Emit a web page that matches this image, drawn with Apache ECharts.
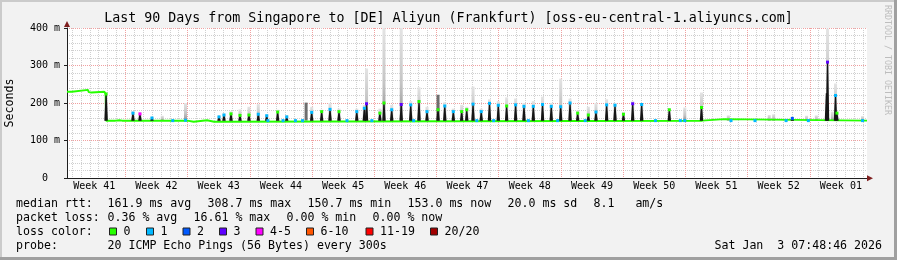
<!DOCTYPE html>
<html><head><meta charset="utf-8">
<script src="https://cdn.jsdelivr.net/npm/echarts@6/dist/echarts.min.js"></script>
<style>html,body{margin:0;padding:0;background:#f2f2f2}#c{width:897px;height:260px}</style>
</head><body><div id="c"></div>
<script>
// ---------------- data (x = days since the start of the 90-day window, y = ms) ----------------
const weekLabels = ['Week 41','Week 42','Week 43','Week 44','Week 45','Week 46','Week 47','Week 48','Week 49','Week 50','Week 51','Week 52','Week 01'];
const weekLabelDays = [3.06, 10.06, 17.06, 24.06, 31.06, 38.06, 45.06, 52.06, 59.06, 66.06, 73.06, 80.06, 87.06];
const weekStartDays = [6.56, 13.56, 20.56, 27.56, 34.56, 41.56, 48.56, 55.56, 62.56, 69.56, 76.56, 83.56];
const yTickValues = [0, 100, 200, 300, 400];
const yTickLabels = ['0  ', '100 m', '200 m', '300 m', '400 m'];

// median rtt baseline (ms)
const baseDay = [0, 0.55, 0.62, 2.35, 2.45, 2.6, 2.75, 2.9, 4.2, 4.36, 4.40, 5.45, 5.6, 5.9, 6.2, 6.35, 6.7, 13.55, 13.75, 14.25, 14.4, 15.75, 15.95, 16.55, 16.7, 71.45, 71.55, 73.9, 74.0, 90];
const baseMs  = [230, 230, 235, 235, 229, 233, 228, 230, 230, 224, 153, 153, 157, 154, 153, 158, 153, 153, 150, 150, 154, 154, 150, 150, 153, 153, 157, 157, 153, 153];

// median excursions: day, peak median (ms), top of the smoke (ms), loss colour index at the peak (-1 none)
const spikeDay   = [4.40, 7.42, 8.21, 9.56, 10.72, 13.33, 17.10, 17.66, 18.45, 19.46, 20.47, 21.52, 22.47, 23.70, 24.72, 27.53, 28.65, 29.59, 30.60, 32.60, 33.45, 33.70, 35.20, 35.66, 36.53, 37.60, 38.67, 39.60, 40.50, 41.74, 42.50, 43.46, 44.40, 44.97, 45.68, 46.60, 47.53, 48.52, 49.46, 50.47, 51.41, 52.46, 53.50, 54.48, 55.54, 56.59, 57.45, 58.65, 59.51, 60.71, 61.65, 62.60, 63.64, 64.65, 67.76, 69.50, 71.38, 74.40, 79.00, 79.50, 81.60, 83.20, 84.30, 85.44, 85.56, 86.10, 86.46, 86.62, 89.50];
const spikePeak  = [224, 173, 171, 160, 153, 154, 163, 168, 171, 167, 168, 170, 166, 176, 163, 175, 177, 183, 177, 177, 186, 198, 173, 200, 182, 196, 195, 204, 177, 182, 192, 177, 177, 182, 197, 177, 199, 194, 192, 195, 191, 191, 196, 191, 190, 200, 173, 168, 176, 195, 194, 170, 198, 196, 182, 153, 188, 153, 153, 153, 159, 153, 153, 226, 309, 153, 220, 173, 153];
const spikeSmoke = [224, 178, 175, 163, 166, 200, 166, 172, 178, 183, 190, 197, 170, 182, 168, 190, 182, 200, 185, 185, 195, 292, 185, 400, 195, 400, 205, 242, 190, 195, 202, 185, 195, 190, 244, 185, 210, 205, 215, 212, 200, 205, 217, 200, 265, 212, 180, 190, 200, 210, 200, 176, 205, 200, 185, 188, 228, 167, 168, 170, 162, 166, 167, 226, 398, 177, 252, 173, 165];
const spikeLoss  = [0, 1, 4, 1, -1, 1, 1, 1, 0, 0, 0, 1, 1, 0, 1, 1, 0, 1, 0, 1, 1, 3, 0, 0, 1, 3, 1, 0, 1, 0, 1, 1, 0, 0, 1, 1, 1, 1, 0, 1, 1, 1, 1, 1, 1, 1, 0, 0, 1, 1, 1, 0, 3, 1, 0, 1, 0, -1, -1, -1, 2, -1, -1, -1, 3, -1, 1, 0, 1];

// dense dark smoke bars
const darkDay = [26.90, 41.74];
const darkTop = [201, 222];

// single-loss samples sitting on the baseline
const baseLossDay = [11.9, 22.6, 24.3, 25.7, 26.5, 31.5, 34.3, 39.0, 46.1, 48.0, 51.9, 55.2, 58.3, 66.2, 69.0, 74.7, 77.4, 80.9, 83.4];
const baseLossIdx = [1, 1, 1, 1, 1, 1, 1, 1, 1, 1, 1, 1, 1, 1, 1, 1, 1, 1, 1];

const lossColors = ['#26ff00', '#00b8ff', '#0059ff', '#5e00ff', '#ff00ff', '#ff5500', '#ff0000', '#a10000'];
const lossLabels = ['0', '1', '2', '3', '4-5', '6-10', '11-19', '20/20'];

const title = 'Last 90 Days from Singapore to [DE] Aliyun (Frankfurt) [oss-eu-central-1.aliyuncs.com]';
const legendRows = [
  ['median rtt:', '161.9 ms avg', '308.7 ms max', '150.7 ms min', '153.0 ms now', '20.0 ms sd', '8.1   am/s'],
  ['packet loss:', '0.36 % avg', '16.61 % max', '0.00 % min', '0.00 % now']
];
const probeText = ['probe:', '20 ICMP Echo Pings (56 Bytes) every 300s'];
const stamp = 'Sat Jan  3 07:48:46 2026';

// ---------------- chart ----------------
const MONO = "'DejaVu Sans Mono', monospace";
const dayStartDays = Array.from({length: 90}, (_, k) => 0.56 + k); // daily grid

function baseAt(d) {
  for (let i = 1; i < baseDay.length; i++) {
    if (d <= baseDay[i]) {
      const f = (d - baseDay[i - 1]) / (baseDay[i] - baseDay[i - 1]);
      return baseMs[i - 1] + f * (baseMs[i] - baseMs[i - 1]);
    }
  }
  return baseMs[baseMs.length - 1];
}

const chart = echarts.init(document.getElementById('c'), null, {renderer: 'canvas', width: 897, height: 260});

const smokeGrad = new echarts.graphic.LinearGradient(0, 0, 0, 1, [
  {offset: 0, color: '#e4e4e4'}, {offset: 0.6, color: '#c4c4c4'}, {offset: 1, color: '#909090'}
]);

function barItem(width, fill) {
  return function (params, api) {
    const p0 = api.coord([api.value(0), api.value(1)]);
    const p1 = api.coord([api.value(0), api.value(2)]);
    const h = p0[1] - p1[1];
    if (h < 0.5) return null;
    return {type: 'rect', shape: {x: p0[0] - width / 2, y: p1[1], width: width, height: h}, style: {fill: fill}};
  };
}

function spikeItem(params, api) {
  const p0 = api.coord([api.value(0), api.value(1)]);
  const p1 = api.coord([api.value(0), api.value(2)]);
  if (p0[1] - p1[1] < 0.5) return null;
  const x = p0[0];
  return {type: 'polygon', shape: {points: [[x - 1.7, p0[1]], [x - 0.6, p1[1]], [x + 0.6, p1[1]], [x + 1.7, p0[1]]]},
          style: {fill: '#151515'}};
}

const spikeRows = spikeDay.map((d, i) => [d, baseAt(d), spikePeak[i], spikeSmoke[i]]);
const markers = [];
spikeDay.forEach((d, i) => { if (spikeLoss[i] >= 0) markers.push([d, spikePeak[i], spikeLoss[i]]); });
baseLossDay.forEach((d, i) => markers.push([d, baseAt(d), baseLossIdx[i]]));

const graphics = [];
// frame
graphics.push({type: 'rect', shape: {x: 0, y: 0, width: 897, height: 2}, style: {fill: '#cbcbcb'}, silent: true});
graphics.push({type: 'rect', shape: {x: 0, y: 0, width: 2, height: 260}, style: {fill: '#cbcbcb'}, silent: true});
graphics.push({type: 'rect', shape: {x: 0, y: 257, width: 897, height: 3}, style: {fill: '#a0a0a0'}, silent: true});
graphics.push({type: 'rect', shape: {x: 894, y: 0, width: 3, height: 260}, style: {fill: '#a0a0a0'}, silent: true});
// arrows
graphics.push({type: 'polygon', shape: {points: [[867, 175.3], [873, 178.3], [867, 181.3]]}, style: {fill: '#7f1f1f'}, silent: true, z: 10});
graphics.push({type: 'polygon', shape: {points: [[64, 27], [67, 21], [70, 27]]}, style: {fill: '#7f1f1f'}, silent: true, z: 10});
// title
graphics.push({type: 'text', x: 448.5, y: 19, style: {text: title, fontFamily: MONO, fontSize: 13.3, fill: '#000', align: 'center', verticalAlign: 'middle'}, silent: true});
// vertical axis title
graphics.push({type: 'text', x: 10, y: 103, rotation: Math.PI / 2, style: {text: 'Seconds', fontFamily: MONO, fontSize: 11.6, fill: '#000', align: 'center', verticalAlign: 'middle'}, silent: true});
// watermark
graphics.push({type: 'text', x: 887, y: 60, rotation: -Math.PI / 2, style: {text: 'RRDTOOL / TOBI OETIKER', fontFamily: MONO, fontSize: 8.3, fill: '#bdbdbd', align: 'center', verticalAlign: 'middle'}, silent: true});
// legend rows
const rowX = [[16, 107.5, 207.5, 307.5, 407.5, 507.5, 593.5], [16, 107.5, 193.5, 286.5, 372.5]];
const rowY = [204.3, 218.3];
legendRows.forEach((row, r) => row.forEach((t, j) => graphics.push({type: 'text', x: rowX[r][j], y: rowY[r],
  style: {text: t, fontFamily: MONO, fontSize: 11.6, fill: '#000', align: 'left', verticalAlign: 'middle'}, silent: true})));
graphics.push({type: 'text', x: 16, y: 232.3, style: {text: 'loss color:', fontFamily: MONO, fontSize: 11.6, fill: '#000', verticalAlign: 'middle'}, silent: true});
const boxX = [109.5, 146.5, 183, 219.5, 256, 306.5, 366, 430.5];
lossLabels.forEach((t, i) => {
  graphics.push({type: 'rect', shape: {x: boxX[i], y: 228, width: 7, height: 7}, style: {fill: lossColors[i], stroke: '#222', lineWidth: 1}, silent: true});
  graphics.push({type: 'text', x: boxX[i] + 14, y: 232.3, style: {text: t, fontFamily: MONO, fontSize: 11.6, fill: '#000', verticalAlign: 'middle'}, silent: true});
});
graphics.push({type: 'text', x: 16, y: 246.3, style: {text: probeText[0], fontFamily: MONO, fontSize: 11.6, fill: '#000', verticalAlign: 'middle'}, silent: true});
graphics.push({type: 'text', x: 107.5, y: 246.3, style: {text: probeText[1], fontFamily: MONO, fontSize: 11.6, fill: '#000', verticalAlign: 'middle'}, silent: true});
graphics.push({type: 'text', x: 882, y: 246.3, style: {text: stamp, fontFamily: MONO, fontSize: 11.6, fill: '#000', align: 'right', verticalAlign: 'middle'}, silent: true});

const option = {
  animation: false,
  backgroundColor: '#f2f2f2',
  grid: {left: 67, top: 28, width: 800, height: 150, show: true, backgroundColor: '#ffffff', borderWidth: 0},
  xAxis: [
    { // daily grid, carries the data
      type: 'value', min: 0, max: 90, position: 'bottom',
      axisLine: {show: false}, axisLabel: {show: false},
      axisTick: {show: false, customValues: dayStartDays},
      splitLine: {show: true, customValues: dayStartDays, lineStyle: {color: '#d0d0d0', width: 1, type: [1, 1]}}
    },
    { // weekly grid and labels
      type: 'value', min: 0, max: 90, position: 'bottom', offset: 0,
      axisLine: {show: true, onZero: false, lineStyle: {color: '#1f1f1f', width: 1}},
      axisTick: {show: false, customValues: weekStartDays},
      splitLine: {show: true, customValues: weekStartDays, lineStyle: {color: '#f0a0a0', width: 1, type: [1, 1]}},
      axisLabel: {customValues: weekLabelDays, margin: 3, fontFamily: MONO, fontSize: 10, color: '#000',
        formatter: v => { const i = weekLabelDays.findIndex(x => Math.abs(x - v) < 0.01); return i >= 0 ? weekLabels[i] : ''; }}
    }
  ],
  yAxis: {
    type: 'value', min: 0, max: 400, interval: 100,
    axisLine: {show: true, lineStyle: {color: '#1f1f1f', width: 1}},
    axisTick: {show: true, length: 3, lineStyle: {color: '#1f1f1f'}},
    axisLabel: {margin: 7, fontFamily: MONO, fontSize: 10, color: '#000',
      formatter: v => { const i = yTickValues.indexOf(v); return i >= 0 ? yTickLabels[i] : ''; }},
    splitLine: {show: true, lineStyle: {color: '#f0a0a0', width: 1, type: [1, 1]}},
    minorTick: {show: false, splitNumber: 5},
    minorSplitLine: {show: true, lineStyle: {color: '#d0d0d0', width: 1, type: [1, 1]}}
  },
  series: [
    {name: 'smoke', type: 'custom', xAxisIndex: 0, yAxisIndex: 0, z: 2, silent: true,
      data: spikeRows.map(r => [r[0], r[1], r[3]]), encode: {x: 0, y: [1, 2]}, renderItem: barItem(3, smokeGrad)},
    {name: 'dark smoke', type: 'custom', xAxisIndex: 0, yAxisIndex: 0, z: 2, silent: true,
      data: darkDay.map((d, i) => [d, baseAt(d), darkTop[i]]), encode: {x: 0, y: [1, 2]}, renderItem: barItem(3, '#6e6e6e')},
    {name: 'median', type: 'line', xAxisIndex: 0, yAxisIndex: 0, z: 3, silent: true, symbol: 'none',
      data: baseDay.map((d, i) => [d, baseMs[i]]), lineStyle: {color: '#26ff00', width: 2}},
    {name: 'median peaks', type: 'custom', xAxisIndex: 0, yAxisIndex: 0, z: 4, silent: true,
      data: spikeRows.map(r => [r[0], r[1], r[2]]), encode: {x: 0, y: [1, 2]}, renderItem: spikeItem},
    {name: 'loss', type: 'scatter', xAxisIndex: 0, yAxisIndex: 0, z: 5, silent: true, symbol: 'rect', symbolSize: [3, 3],
      data: markers, itemStyle: {color: p => lossColors[p.data[2]], opacity: 1}}
  ],
  graphic: graphics
};
chart.setOption(option);
</script></body></html>
